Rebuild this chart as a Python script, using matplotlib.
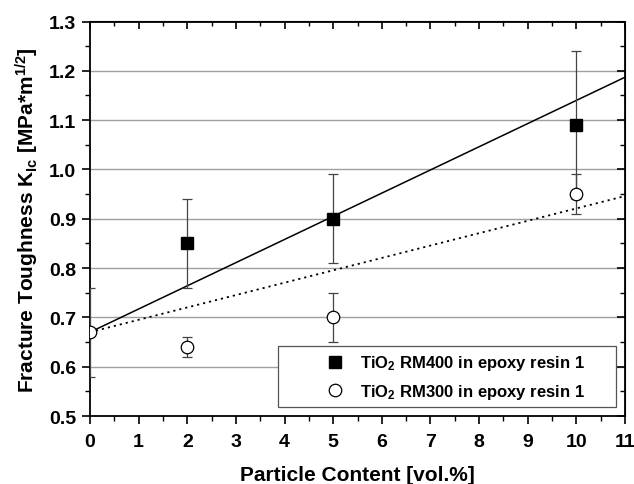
import matplotlib
matplotlib.use('Agg')
import matplotlib.pyplot as plt
from matplotlib.lines import Line2D
from matplotlib.patches import Rectangle
import numpy as np

plt.rcParams['font.family'] = ['Liberation Sans', 'DejaVu Sans']
plt.rcParams['font.weight'] = 'bold'
plt.rcParams['mathtext.default'] = 'bf'
plt.rcParams['mathtext.fontset'] = 'custom'
plt.rcParams['mathtext.bf'] = 'Liberation Sans:bold'
plt.rcParams['mathtext.rm'] = 'Liberation Sans:bold'

# data
x_rm400 = [2, 5, 10]
y_rm400 = [0.85, 0.90, 1.09]
e_rm400 = [0.09, 0.09, 0.15]

x_rm300 = [0, 2, 5, 10]
y_rm300 = [0.67, 0.64, 0.70, 0.95]
e_rm300 = [0.09, 0.02, 0.05, 0.04]

# fit lines (start / end values)
fit_x = [0, 11]
fit_rm400 = [0.67, 1.187]
fit_rm300 = [0.67, 0.946]

xticks = list(range(0, 12))
yticks = [0.5, 0.6, 0.7, 0.8, 0.9, 1.0, 1.1, 1.2, 1.3]
labels = ['TiO$_2$ RM400 in epoxy resin 1', 'TiO$_2$ RM300 in epoxy resin 1']

fig = plt.figure(figsize=(6.34, 4.85), dpi=100)
ax = fig.add_axes([90 / 634, 1 - 417 / 485, 535 / 634, 394.5 / 485])

for yv in yticks[1:-1]:
    ax.axhline(yv, color='#a0a0a0', lw=1.0, zorder=0)

ax.plot(fit_x, fit_rm400, color='black', lw=1.1, zorder=2)
ax.plot(fit_x, fit_rm300, color='black', lw=1.3, ls=(0, (1.2, 2.2)), zorder=2)

ax.errorbar(x_rm400, y_rm400, yerr=e_rm400, fmt='s', color='black', ms=8,
            ecolor='#444444', elinewidth=0.9, capsize=3.5, capthick=0.9, zorder=3)
ax.errorbar(x_rm300, y_rm300, yerr=e_rm300, fmt='o', mfc='white', mec='black',
            mew=0.9, ms=9, ecolor='#444444', elinewidth=0.9, capsize=3.5,
            capthick=0.9, zorder=3)

ax.set_xlim(0, 11)
ax.set_ylim(0.5, 1.3)
ax.set_xticks(xticks)
ax.set_yticks(yticks)
ax.set_xticks(np.arange(0.5, 11, 1), minor=True)
ax.set_yticks(np.arange(0.55, 1.3, 0.1), minor=True)
ax.set_yticklabels([f'{v:.1f}' for v in yticks])
ax.tick_params(which='major', direction='out', length=6, width=1.2, labelsize=14, pad=4)
ax.tick_params(axis='x', which='major', pad=6)
ax.tick_params(which='minor', direction='out', length=3.5, width=1.0)
for s in ax.spines.values():
    s.set_linewidth(1.3)

top = ax.secondary_xaxis('top')
top.set_xticks(xticks)
top.set_xticks(np.arange(0.5, 11, 1), minor=True)
top.tick_params(which='major', direction='in', length=6, width=1.2, labeltop=False)
top.tick_params(which='minor', direction='in', length=3.5, width=1.0)
right = ax.secondary_yaxis('right')
right.set_yticks(yticks)
right.set_yticks(np.arange(0.55, 1.3, 0.1), minor=True)
right.tick_params(which='major', direction='in', length=6, width=1.2, labelright=False)
right.tick_params(which='minor', direction='in', length=3.5, width=1.0)

ax.set_xlabel('Particle Content [vol.%]', fontsize=15, fontweight='bold')
ax.xaxis.set_label_coords(0.5, -0.125)
ax.set_ylabel('Fracture Toughness K$_{Ic}$ [MPa*m$^{1/2}$]',
              fontsize=15, fontweight='bold', labelpad=6)

# legend frame drawn separately so the marker column sits further in
frame = Rectangle((0.351, 0.023), 0.632, 0.154, transform=ax.transAxes,
                  facecolor='white', edgecolor='#555555', lw=0.9, zorder=4)
ax.add_patch(frame)
handles = [Line2D([], [], ls='none', marker='s', color='black', ms=8),
           Line2D([], [], ls='none', marker='o', mfc='white', mec='black', mew=0.9, ms=9)]
leg = ax.legend(handles, labels, loc='center left', bbox_to_anchor=(0.4424, 0.099),
                fontsize=12, frameon=False, borderpad=0, borderaxespad=0,
                handlelength=1.0, handletextpad=1.0, labelspacing=0.55)
leg.set_zorder(5)

fig.savefig('out.png', dpi=100)
